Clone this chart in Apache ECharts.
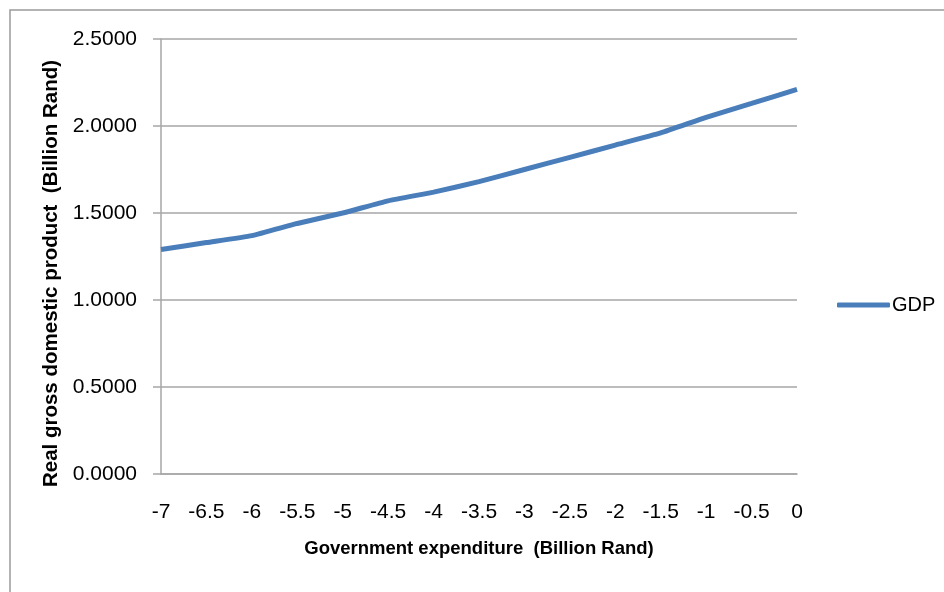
<!DOCTYPE html>
<html>
<head>
<meta charset="utf-8">
<script src="https://cdn.jsdelivr.net/npm/echarts@6/dist/echarts.min.js"></script>
<style>
  html, body { margin: 0; padding: 0; background: #fff; }
  #chart { width: 944px; height: 592px; }
</style>
</head>
<body>
<div id="chart"></div>
<script>
// government expenditure change (categories) and resulting real GDP
var expenditure = ['-7', '-6.5', '-6', '-5.5', '-5', '-4.5', '-4', '-3.5', '-3', '-2.5', '-2', '-1.5', '-1', '-0.5', '0'];
var gdp = [1.29, 1.33, 1.37, 1.44, 1.50, 1.57, 1.62, 1.68, 1.75, 1.82, 1.89, 1.96, 2.05, 2.13, 2.21];

var FONT = '"Liberation Sans", Arial, sans-serif';
var gridColor = '#a6a6a6';

var chart = echarts.init(document.getElementById('chart'));

var option = {
    animation: false,
    textStyle: { fontFamily: FONT },
    graphic: [{
        type: 'rect',
        shape: { x: 10, y: 10, width: 960, height: 620 },
        style: { fill: 'none', stroke: '#9a9a9a', lineWidth: 1.5 },
        silent: true
    }],
    grid: {
        left: 161,
        right: 147,
        top: 39,
        bottom: 118
    },
    legend: {
        left: 832,
        top: 290,
        icon: 'roundRect',
        itemWidth: 53,
        itemHeight: 5,
        itemGap: 10,
        textStyle: {
            color: '#000',
            fontSize: 20,
            fontFamily: FONT,
            padding: [0, 0, 0, -3]
        },
        data: ['GDP']
    },
    xAxis: {
        type: 'category',
        data: expenditure,
        boundaryGap: false,
        name: 'Government expenditure  (Billion Rand)',
        nameLocation: 'middle',
        nameGap: 65,
        nameTextStyle: {
            color: '#000',
            fontSize: 18.5,
            fontWeight: 'bold',
            fontFamily: FONT
        },
        axisLine: {
            lineStyle: { color: gridColor, width: 1.5 }
        },
        axisTick: { show: false },
        axisLabel: {
            margin: 28,
            color: '#000',
            fontSize: 21,
            fontFamily: FONT,
            interval: 0
        },
        splitLine: { show: false }
    },
    yAxis: {
        type: 'value',
        min: 0,
        max: 2.5,
        interval: 0.5,
        name: 'Real gross domestic product  (Billion Rand)',
        nameLocation: 'middle',
        nameGap: 97,
        nameTextStyle: {
            color: '#000',
            fontSize: 20.5,
            fontWeight: 'bold',
            fontFamily: FONT,
            padding: [0, 34, 0, 0]
        },
        axisLine: {
            show: true,
            lineStyle: { color: gridColor, width: 1.5 }
        },
        axisTick: {
            show: true,
            length: 8,
            lineStyle: { color: gridColor, width: 1.5 }
        },
        axisLabel: {
            margin: 24,
            color: '#000',
            fontSize: 21,
            fontFamily: FONT,
            formatter: function (v) { return v.toFixed(4); }
        },
        splitLine: {
            lineStyle: { color: gridColor, width: 1.5 }
        }
    },
    series: [{
        name: 'GDP',
        type: 'line',
        data: gdp,
        showSymbol: false,
        symbol: 'none',
        smooth: 0.15,
        itemStyle: { color: '#4a7ebb' },
        lineStyle: { color: '#4a7ebb', width: 5 }
    }]
};

chart.setOption(option);
</script>
</body>
</html>
